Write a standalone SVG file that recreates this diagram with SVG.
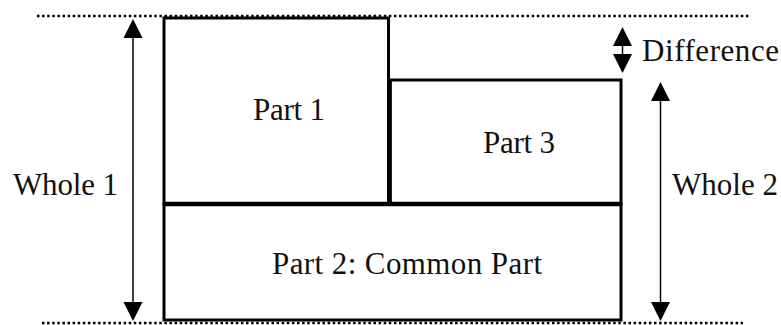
<svg xmlns="http://www.w3.org/2000/svg" width="781" height="325" viewBox="0 0 781 325" font-family="Liberation Serif, Times New Roman, serif">
<style>
.t{font-size:31px;fill:#111}
.box{fill:#fff;stroke:#000;stroke-width:3}
.thick{stroke:#000;stroke-width:4.5;fill:none}
.dot{stroke:#000;stroke-width:2.5;stroke-dasharray:2.5 2.6;fill:none}
.ln{stroke:#000;stroke-width:1.5;fill:none}
.hd{fill:#000}
</style>
<rect width="781" height="325" fill="#fff"/>
<g id="guides">
<line class="dot" x1="37" y1="16" x2="750" y2="16"/>
<line class="dot" x1="42" y1="323" x2="743" y2="323"/>
</g>
<g id="part1">
<rect class="box" x="164" y="18" width="224.5" height="186"/>
<text class="t" font-family="Liberation Serif" x="253" y="120" textLength="72">Part 1</text>
</g>
<g id="part3">
<rect class="box" x="390" y="80" width="231" height="124"/>
<text class="t" font-family="Liberation Serif" x="483" y="153" textLength="72">Part 3</text>
</g>
<g id="part2">
<rect class="box" x="164" y="204" width="457" height="116"/>
<line class="thick" x1="164" y1="204" x2="621" y2="204"/>
<line class="thick" x1="389.5" y1="80" x2="389.5" y2="204"/>
<text class="t" font-family="Liberation Serif" x="272" y="274" textLength="270">Part 2: Common Part</text>
</g>
<g id="connectors">
<g id="whole1-arrow">
<line class="ln" x1="133" y1="36" x2="133" y2="304"/>
<polygon class="hd" points="133,19 123.5,38 142.5,38"/>
<polygon class="hd" points="133,321 123.5,302 142.5,302"/>
</g>
<g id="whole2-arrow">
<line class="ln" x1="660.5" y1="99" x2="660.5" y2="304"/>
<polygon class="hd" points="660.5,82 651,101 670,101"/>
<polygon class="hd" points="660.5,321 651,302 670,302"/>
</g>
<g id="difference-arrow">
<line class="ln" x1="622.5" y1="44" x2="622.5" y2="56"/>
<polygon class="hd" points="622.5,27 613,46 632,46"/>
<polygon class="hd" points="622.5,73 613,54 632,54"/>
</g>
</g>
<g id="labels">
<text class="t" font-family="Liberation Serif" x="13" y="195" textLength="105">Whole 1</text>
<text class="t" font-family="Liberation Serif" x="672" y="195" textLength="106">Whole 2</text>
<text class="t" font-family="Liberation Serif" x="642" y="61" textLength="137">Difference</text>
</g>
</svg>
